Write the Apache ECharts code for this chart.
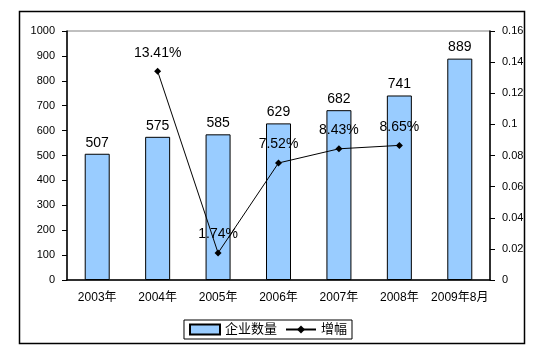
<!DOCTYPE html>
<html>
<head>
<meta charset="utf-8">
<script src="https://cdn.jsdelivr.net/npm/echarts@6/dist/echarts.min.js"></script>
<style>
  html, body { margin: 0; padding: 0; background: #fff; }
  #chart { width: 536px; height: 353px; }
</style>
</head>
<body>
<div id="chart"></div>
<script>
// categories along the x axis
const categories = ['2003年', '2004年', '2005年', '2006年', '2007年', '2008年', '2009年8月'];
// number of firms (bars, left axis)
const firmCount = [507, 575, 585, 629, 682, 741, 889];
// growth rate (line, right axis)
const growth = [null, 0.1341, 0.0174, 0.0752, 0.0843, 0.0865, null];

const font = '"Liberation Sans", Arial, "Noto Sans CJK SC", sans-serif';

const chart = echarts.init(document.getElementById('chart'));

chart.setOption({
  animation: false,
  backgroundColor: '#fff',
  textStyle: { fontFamily: font },
  graphic: [{
    type: 'rect',
    shape: { x: 19.5, y: 11.5, width: 505, height: 332 },
    style: { fill: 'none', stroke: '#000', lineWidth: 1.5 },
    silent: true
  }],
  grid: {
    left: 67, right: 46, top: 31, bottom: 73,
    show: true, borderColor: '#808080', borderWidth: 1, backgroundColor: 'transparent'
  },
  legend: {
    bottom: 14,
    left: 'center',
    itemGap: 8,
    itemWidth: 30,
    itemHeight: 10,
    borderColor: '#000',
    borderWidth: 1,
    padding: [3, 5, 3, 5],
    textStyle: { fontSize: 13, color: '#000', fontFamily: font },
    data: [{ name: '企业数量', icon: 'rect' }, { name: '增幅' }]
  },
  xAxis: {
    type: 'category',
    data: categories,
    axisLine: { lineStyle: { color: '#000', width: 1.5 } },
    axisTick: { inside: true, length: 4, lineStyle: { color: '#000' } },
    axisLabel: { fontSize: 12, color: '#000', margin: 12, interval: 0 }
  },
  yAxis: [{
    type: 'value',
    min: 0, max: 1000, interval: 100,
    axisLine: { show: true, lineStyle: { color: '#000', width: 1.5 } },
    axisTick: { show: true, length: 5, lineStyle: { color: '#000' } },
    axisLabel: { fontSize: 11, color: '#000', margin: 12, formatter: v => String(v) },
    splitLine: { show: false }
  }, {
    type: 'value',
    min: 0, max: 0.16, interval: 0.02,
    axisLine: { show: true, lineStyle: { color: '#000', width: 1.5 } },
    axisTick: { show: true, length: 5, lineStyle: { color: '#000' } },
    axisLabel: { fontSize: 11, color: '#000', margin: 12, formatter: v => String(+v.toFixed(2)) },
    splitLine: { show: false }
  }],
  series: [{
    name: '企业数量',
    type: 'bar',
    data: firmCount,
    barWidth: 25,
    itemStyle: { color: '#99ccff', borderColor: '#000', borderWidth: 1 },
    label: { show: true, position: 'top', distance: 4, fontSize: 14, color: '#000' }
  }, {
    name: '增幅',
    type: 'line',
    yAxisIndex: 1,
    data: growth,
    symbol: 'diamond',
    symbolSize: 7,
    lineStyle: { color: '#000', width: 1 },
    itemStyle: { color: '#000' },
    label: {
      show: true, position: 'top', distance: 8, fontSize: 14, color: '#000',
      formatter: p => (p.value * 100).toFixed(2) + '%'
    }
  }]
});
</script>
</body>
</html>
